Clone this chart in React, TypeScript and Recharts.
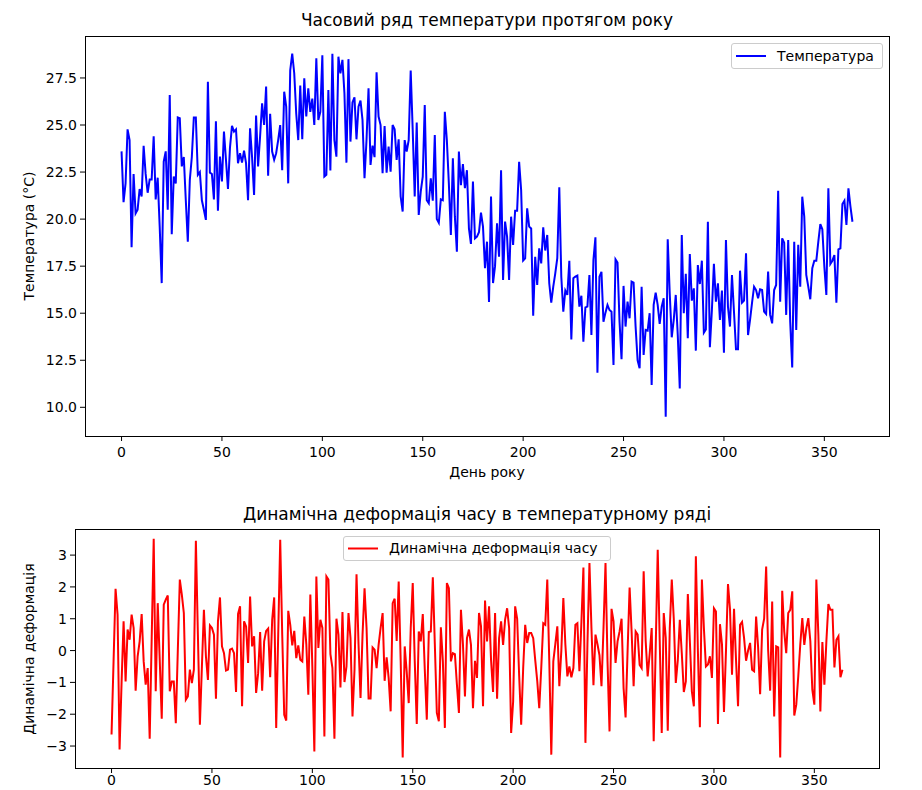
import React from 'react';
import { LineChart, Line, XAxis, YAxis } from 'recharts';

const FONT = '"DejaVu Sans", Verdana, sans-serif';

const temperature = [
  23.6, 20.9, 21.9, 24.77, 24.2, 18.5, 22.4, 20.3, 20.5, 21.6,
  21.2, 23.9, 22.4, 21.4, 22.1, 22.1, 24.4, 21.05, 22.2, 19.6,
  16.6, 23.05, 23.6, 20.5, 26.6, 19.2, 22.26, 21.9, 25.4, 25.36,
  22.8, 23.3, 21.0, 18.8, 22.08, 23.3, 25.4, 25.4, 22.35, 22.5,
  21.0, 20.5, 19.96, 27.3, 22.47, 22.4, 21.05, 25.2, 20.45, 23.32,
  22.0, 24.65, 23.15, 21.6, 23.8, 24.95, 24.65, 24.77, 22.97, 23.5,
  23.0, 23.64, 22.97, 21.0, 24.83, 23.3, 21.28, 25.5, 22.8, 24.4,
  26.15, 25.0, 27.04, 22.3, 25.6, 23.59, 23.15, 23.5, 24.2, 25.0,
  22.6, 26.77, 25.98, 21.9, 27.9, 28.8, 27.75, 25.6, 24.2, 27.1,
  24.24, 27.48, 25.45, 26.95, 25.7, 26.4, 25.0, 28.55, 25.27, 25.7,
  28.7, 22.26, 22.35, 26.86, 22.58, 28.78, 24.2, 23.32, 28.63, 27.75,
  28.46, 26.69, 23.0, 28.5, 24.12, 26.2, 26.47, 24.24, 25.98, 26.3,
  25.27, 22.17, 24.2, 26.95, 22.88, 23.9, 23.29, 27.8, 25.45, 25.0,
  22.44, 24.95, 22.47, 23.85, 22.52, 25.0, 24.77, 23.15, 24.24, 21.2,
  20.4, 24.2, 23.59, 24.2, 27.89, 24.74, 21.2, 25.13, 20.22, 21.46,
  22.26, 26.06, 21.0, 20.84, 22.17, 20.98, 24.47, 20.0, 19.8, 21.05,
  21.0, 25.7, 24.2, 21.9, 19.16, 23.23, 20.13, 18.27, 23.59, 21.8,
  22.93, 21.64, 22.6, 19.51, 18.68, 22.0, 18.98, 19.07, 19.3, 20.35,
  19.6, 17.39, 18.8, 15.6, 21.2, 16.6, 17.5, 19.78, 18.0, 22.6,
  16.77, 19.87, 19.07, 16.77, 20.13, 18.63, 20.45, 20.45, 23.05, 21.55,
  17.8, 17.92, 20.57, 19.6, 19.5, 14.87, 18.0, 16.5, 18.45, 17.65,
  19.56, 18.33, 19.16, 16.59, 15.56, 16.41, 17.12, 17.92, 21.69, 16.94,
  15.08, 16.2, 15.97, 17.78, 13.61, 16.86, 16.94, 17.0, 15.35, 15.93,
  13.49, 15.31, 15.35, 17.03, 13.84, 17.83, 19.03, 11.84, 16.94, 17.2,
  14.55, 15.03, 15.44, 15.17, 15.08, 12.25, 17.86, 17.69, 14.55, 12.55,
  16.45, 14.29, 15.62, 14.73, 16.68, 16.63, 14.29, 12.5, 12.07, 16.41,
  12.78, 14.11, 14.07, 15.0, 11.19, 15.44, 16.09, 15.44, 14.43, 15.35,
  15.8, 9.5, 18.93, 16.06, 13.72, 14.64, 15.97, 13.84, 11.0, 19.16,
  15.0, 17.1, 13.67, 18.15, 15.67, 16.32, 13.01, 17.56, 16.55, 17.79,
  13.97, 14.14, 19.86, 13.19, 15.17, 17.62, 15.61, 16.59, 14.64, 16.2,
  12.9, 18.89, 15.35, 14.29, 17.03, 15.08, 13.08, 13.08, 17.26, 15.56,
  15.67, 18.18, 13.84, 14.64, 15.56, 16.41, 16.23, 15.79, 16.27, 16.23,
  15.08, 14.96, 17.21, 14.91, 14.46, 16.23, 16.5, 21.51, 15.61, 18.98,
  18.75, 14.91, 18.89, 14.55, 12.12, 18.8, 14.11, 18.63, 16.41, 21.19,
  20.13, 17.03, 16.41, 15.74, 17.39, 17.79, 17.79, 18.8, 19.74, 19.46,
  17.47, 15.97, 21.64, 17.62, 17.79, 18.09, 15.56, 18.39, 18.45, 20.8,
  20.98, 19.69, 21.64, 20.66, 19.86,
];

const deformation = [
  -2.64, -0.35, 1.94, 1.13, -3.11, -1.0, 0.92, -0.97, 0.66, 0.34,
  1.13, 0.71, -1.26, -0.18, 0.29, 1.15, -0.34, -1.07, -0.55, -2.77,
  0.4, 3.51, -1.28, 1.49, -0.3, -2.14, 1.44, 1.6, 1.73, -1.28,
  -0.97, -0.97, -2.28, 0.0, 2.23, 1.76, 1.18, -1.54, -1.44, -0.6,
  -1.02, -0.6, 3.45, 0.5, -2.33, -0.5, 1.28, -0.18, -0.92, 0.79,
  0.71, 0.5, -1.51, 0.92, 1.67, 0.13, -0.08, -0.63, -0.6, 0.03,
  0.06, -0.08, -1.3, 1.15, 1.39, -1.75, 0.92, 0.76, -0.39, 1.7,
  0.13, 0.45, -1.33, -0.71, 0.58, -1.26, 0.29, 0.62, 0.69, -0.84,
  0.97, 1.67, -2.43, 0.5, 3.48, 0.5, -2.02, -2.2, 1.25, 0.81,
  0.16, 0.62, -0.24, 0.16, -0.29, -0.34, 1.07, 0.2, -1.39, 1.76,
  -0.5, -3.17, 2.33, 0.08, 0.97, 0.71, -2.7, 2.33, 2.23, -0.11,
  -0.55, -2.77, 1.0, 0.5, -1.16, 1.21, -0.99, -0.5, 1.18, 0.39,
  -2.07, -0.6, 2.4, 0.2, -1.49, 0.5, 1.96, 0.71, -1.51, -1.51,
  0.1, 0.03, -0.55, 0.18, 0.71, 1.18, -0.95, -0.21, -0.86, -1.91,
  1.49, 1.63, 0.3, 2.17, -0.34, -3.36, 0.13, -0.67, -1.65, 0.71,
  2.12, -0.34, -2.31, 0.6, 0.29, 1.15, -0.6, -2.17, 0.58, 0.6,
  2.3, 0.2, -1.96, -2.22, 0.73, -0.34, -2.43, 2.12, 1.96, -0.34,
  -0.08, -0.11, -1.07, -1.96, 1.28, 0.2, -1.44, 0.39, 0.66, 0.18,
  -1.81, -0.32, -0.86, 1.18, 0.76, -1.75, 1.57, 0.29, 1.39, -0.3,
  -1.3, 1.18, -1.51, 0.39, 0.92, 0.18, 0.97, 1.33, 0.71, -2.59,
  -1.6, 1.39, 1.0, -0.8, -2.33, -0.55, 0.81, 0.24, 0.55, 0.55,
  0.39, -0.3, -0.95, -1.81, -0.55, 0.86, 0.81, 2.23, -0.34, -3.27,
  -0.34, 0.2, 0.76, -1.12, 0.0, 1.65, 0.2, -0.81, -0.5, -0.84,
  -0.55, 0.81, 0.86, -0.65, 0.9, 2.61, -2.9, 0.2, 2.75, 0.7,
  -1.09, 0.5, 0.2, -0.15, -1.12, 0.7, 2.75, -0.34, -2.54, 1.31,
  0.92, -0.39, 0.29, 0.6, 1.0, -1.18, -2.1, 0.0, 1.98, 0.6,
  -1.12, 0.6, 0.5, -0.45, -0.55, 2.49, 0.3, -0.81, -0.1, 0.71,
  -2.85, 0.1, 3.17, 0.3, -2.59, 1.18, 0.4, -2.52, 0.7, 2.23,
  1.0, -1.02, -0.3, 0.97, -0.1, -1.3, -0.97, 1.78, 0.3, -1.28,
  -1.75, 2.96, 0.0, -2.41, 2.23, 0.7, -0.5, -0.44, -0.18, -0.86,
  1.33, 1.23, -2.31, 0.83, 0.2, -1.93, 0.0, 2.09, 1.3, -0.76,
  1.31, -0.3, -1.75, 0.81, 0.9, 0.4, -0.32, 0.0, 0.24, -0.6,
  -0.65, 1.07, 0.1, -1.37, 0.66, 1.0, 2.64, 0.0, -1.26, 1.54,
  -2.07, 0.13, 0.1, -3.36, 1.88, 0.6, -0.08, 1.18, 1.28, 1.86,
  -2.04, -1.7, -0.8, 0.2, 1.02, 0.18, 0.7, 1.02, 0.3, -1.23,
  -1.7, 2.23, 0.5, -1.91, 0.27, -1.07, 0.3, 1.46, 1.28, 1.28,
  -0.53, 0.34, 0.45, -0.84, -0.6,
];

const days = temperature.map((_, i) => i);
const xTicks = [0, 50, 100, 150, 200, 250, 300, 350];
const tempTicks = [10, 12.5, 15, 17.5, 20, 22.5, 25, 27.5];
const defTicks = [-3, -2, -1, 0, 1, 2, 3];

const TOP_TITLE = 'Часовий ряд температури протягом року';
const BOTTOM_TITLE = 'Динамічна деформація часу в температурному ряді';
const X_LABEL = 'День року';
const TEMP_LABEL = 'Температура (°C)';
const DEF_LABEL = 'Динамічна деформація';
const TEMP_LEGEND = 'Температура';
const DEF_LEGEND = 'Динамічна деформація часу';

const tempData = days.map((d, i) => ({ day: d, temp: temperature[i] }));
const defData = days.map((d, i) => ({ day: d, def: deformation[i] }));

const X_DOMAIN: [number, number] = [-18.2, 382.2];

const tickStyle = { fill: '#000', fontSize: 14, fontFamily: FONT };

const minusFmt = (v: number) => (v < 0 ? '\u2212' + Math.abs(v) : String(v));

const abs = (s: React.CSSProperties): React.CSSProperties => ({ position: 'absolute', ...s });

function Legend({ left, top, width, height, color, text }: any) {
  return (
    <div
      style={abs({
        left,
        top,
        width,
        height,
        boxSizing: 'border-box',
        border: '1px solid #cccccc',
        borderRadius: 3,
        background: 'rgba(255,255,255,0.85)',
      })}
    >
      <svg style={abs({ left: 4, top: 0 })} width={32} height={height - 2}>
        <line x1={0} x2={30} y1={(height - 2) / 2} y2={(height - 2) / 2} stroke={color} strokeWidth={2} />
      </svg>
      <div
        style={abs({
          left: 45,
          top: 0,
          lineHeight: `${height - 2}px`,
          fontSize: 14,
          color: '#000',
          whiteSpace: 'nowrap',
        })}
      >
        {text}
      </div>
    </div>
  );
}

function RotLabel({ cx, cy, text }: any) {
  return (
    <div
      style={abs({
        left: cx - 200,
        top: cy - 10,
        width: 400,
        height: 20,
        lineHeight: '20px',
        textAlign: 'center',
        fontSize: 14,
        color: '#000',
        transform: 'rotate(-90deg)',
        whiteSpace: 'nowrap',
      })}
    >
      {text}
    </div>
  );
}

export default function App() {
  return (
    <div
      style={abs({
        left: 0,
        top: 0,
        width: 922,
        height: 790,
        background: '#fff',
        fontFamily: FONT,
        overflow: 'hidden',
      })}
    >
      {/* Top chart */}
      <div style={abs({ left: 0, top: 0 })}>
        <LineChart width={922} height={480} data={tempData} margin={{ top: 36, right: 33, bottom: 14, left: 25 }}>
          <XAxis
            dataKey="day"
            type="number"
            domain={X_DOMAIN}
            ticks={xTicks}
            allowDataOverflow
            axisLine={false}
            tickLine={{ stroke: '#000' }}
            tickSize={5}
            tickMargin={6}
            height={30}
            tick={tickStyle}
          />
          <YAxis
            type="number"
            domain={[8.475, 29.73]}
            ticks={tempTicks}
            allowDataOverflow
            axisLine={false}
            tickLine={{ stroke: '#000' }}
            tickSize={5}
            tickMargin={3}
            width={60}
            tick={tickStyle}
            tickFormatter={(v: number) => v.toFixed(1)}
          />
          <Line
            type="linear"
            dataKey="temp"
            stroke="#0000ff"
            strokeWidth={2}
            dot={false}
            activeDot={false}
            isAnimationActive={false}
          />
        </LineChart>
      </div>
      <div style={abs({ left: 85, top: 36, width: 805, height: 401, boxSizing: 'border-box', border: '1px solid #000', pointerEvents: 'none' })} />

      {/* Bottom chart */}
      <div style={abs({ left: 0, top: 490 })}>
        <LineChart width={922} height={300} data={defData} margin={{ top: 39, right: 43, bottom: 0, left: 25 }}>
          <XAxis
            dataKey="day"
            type="number"
            domain={X_DOMAIN}
            ticks={xTicks}
            allowDataOverflow
            axisLine={false}
            tickLine={{ stroke: '#000' }}
            tickSize={5}
            tickMargin={2}
            height={22}
            tick={tickStyle}
          />
          <YAxis
            type="number"
            domain={[-3.69, 3.82]}
            ticks={defTicks}
            allowDataOverflow
            axisLine={false}
            tickLine={{ stroke: '#000' }}
            tickSize={5}
            tickMargin={3}
            width={50}
            tick={tickStyle}
            tickFormatter={minusFmt}
          />
          <Line
            type="linear"
            dataKey="def"
            stroke="#ff0000"
            strokeWidth={2}
            dot={false}
            activeDot={false}
            isAnimationActive={false}
          />
        </LineChart>
      </div>
      <div style={abs({ left: 75, top: 529, width: 805, height: 240, boxSizing: 'border-box', border: '1px solid #000', pointerEvents: 'none' })} />

      {/* Titles and labels */}
      <div style={abs({ left: 187, top: 9, width: 600, textAlign: 'center', fontSize: 17, lineHeight: '22px', color: '#000' })}>
        {TOP_TITLE}
      </div>
      <div style={abs({ left: 127, top: 503, width: 700, textAlign: 'center', fontSize: 17, lineHeight: '22px', color: '#000' })}>
        {BOTTOM_TITLE}
      </div>
      <div style={abs({ left: 287, top: 463, width: 400, textAlign: 'center', fontSize: 14, lineHeight: '18px', color: '#000' })}>
        {X_LABEL}
      </div>
      <RotLabel cx={29} cy={236} text={TEMP_LABEL} />
      <RotLabel cx={29} cy={649} text={DEF_LABEL} />

      <Legend left={731} top={43} width={152} height={26} color="#0000ff" text={TEMP_LEGEND} />
      <Legend left={343} top={536} width={268} height={25} color="#ff0000" text={DEF_LEGEND} />
    </div>
  );
}
